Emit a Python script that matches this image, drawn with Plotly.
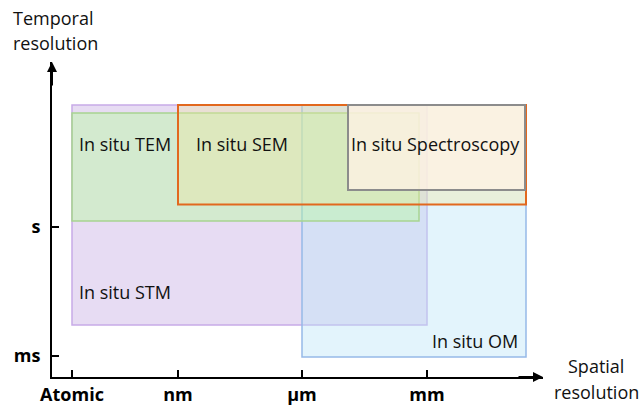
import plotly.graph_objects as go

# Spatial scale positions (arbitrary log-like units)
x_tick_vals = [0.0, 1.06, 2.30, 3.55]
x_tick_text = ["Atomic", "nm", "µm", "mm"]
y_tick_vals = [0.21, 1.50]
y_tick_text = ["ms", "s"]

methods = ["In situ STM", "In situ OM", "In situ TEM", "In situ SEM", "In situ Spectroscopy"]
x_min = [0.0, 2.30, 0.0, 1.06, 2.76]
x_max = [3.55, 4.54, 3.47, 4.54, 4.53]
y_min = [0.52, 0.20, 1.56, 1.725, 1.87]
y_max = [2.72, 2.72, 2.64, 2.72, 2.72]

fills = ["rgba(177,140,215,0.30)", "rgba(188,228,247,0.42)", "rgba(187,251,165,0.45)",
         "rgba(241,228,157,0.35)", "rgba(255,242,228,0.78)"]
borders = ["rgb(200,170,232)", "rgb(150,185,232)", "rgb(168,212,145)",
           "rgb(226,104,30)", "rgb(140,140,140)"]
border_w = [1.5, 1.5, 1.5, 2, 2]

# label anchor (x, y, xanchor)
label_x = [0.05, 4.48, 0.05, 1.22, 2.77]
label_y = [0.85, 0.36, 2.33, 2.33, 2.33]
label_anchor = ["left", "right", "left", "left", "left"]

FONT = "Open Sans"
L, R, T, B = 52, 97, 62, 29
W, H = 640, 406
PW, PH = W - L - R, H - T - B


def px_to_paper(px, py):
    return (px - L) / PW, (H - B - py) / PH


fig = go.Figure()
fig.add_trace(go.Scatter(x=[0], y=[0], mode="markers", marker=dict(opacity=0), showlegend=False, hoverinfo="skip"))

for i, m in enumerate(methods):
    fig.add_shape(type="rect", xref="x", yref="y", x0=x_min[i], x1=x_max[i], y0=y_min[i], y1=y_max[i],
                  fillcolor=fills[i], line=dict(color=borders[i], width=border_w[i]), layer="above")
    fig.add_annotation(x=label_x[i], y=label_y[i], text=m, showarrow=False, xanchor=label_anchor[i],
                       yanchor="middle", font=dict(family=FONT, size=18, color="#111"))

# arrowheads
fig.add_annotation(x=-0.2, y=3.15, ax=-0.2, ay=2.9, xref="x", yref="y", axref="x", ayref="y",
                   showarrow=True, arrowhead=2, arrowsize=1, arrowwidth=2, arrowcolor="black", text="")
fig.add_annotation(x=4.71, y=0, ax=4.45, ay=0, xref="x", yref="y", axref="x", ayref="y",
                   showarrow=True, arrowhead=2, arrowsize=1, arrowwidth=2, arrowcolor="black", text="")

# axis titles
for txt, py in [("Temporal", 18), ("resolution", 43)]:
    xp, yp = px_to_paper(11, py)
    fig.add_annotation(x=xp, y=yp, xref="paper", yref="paper", text=txt, showarrow=False,
                       xanchor="left", yanchor="middle", font=dict(family=FONT, size=18, color="#111"))
for txt, py in [("Spatial", 366), ("resolution", 392)]:
    xp, yp = px_to_paper(596, py)
    fig.add_annotation(x=xp, y=yp, xref="paper", yref="paper", text=txt, showarrow=False,
                       xanchor="center", yanchor="middle", font=dict(family=FONT, size=18, color="#111"))

fig.update_layout(
    width=W, height=H,
    margin=dict(l=L, r=R, t=T, b=B, autoexpand=False),
    plot_bgcolor="white", paper_bgcolor="white",
    showlegend=False,
    xaxis=dict(range=[-0.2, 4.71], tickvals=x_tick_vals, ticktext=x_tick_text, ticks="inside",
               ticklen=7, tickwidth=2, tickcolor="black", showline=True, linewidth=2, linecolor="black",
               showgrid=False, zeroline=False, ticklabelstandoff=0,
               tickfont=dict(family=FONT, size=18, color="black", weight="bold")),
    yaxis=dict(range=[0, 3.15], tickvals=y_tick_vals, ticktext=y_tick_text, ticks="inside",
               ticklen=7, tickwidth=2, tickcolor="black", showline=True, linewidth=2, linecolor="black",
               showgrid=False, zeroline=False, ticklabelstandoff=6,
               tickfont=dict(family=FONT, size=18, color="black", weight="bold")),
)

fig.write_html("out.html", config={"displayModeBar": False},
               post_script="document.body.style.margin='0';document.body.style.overflow='hidden';")
